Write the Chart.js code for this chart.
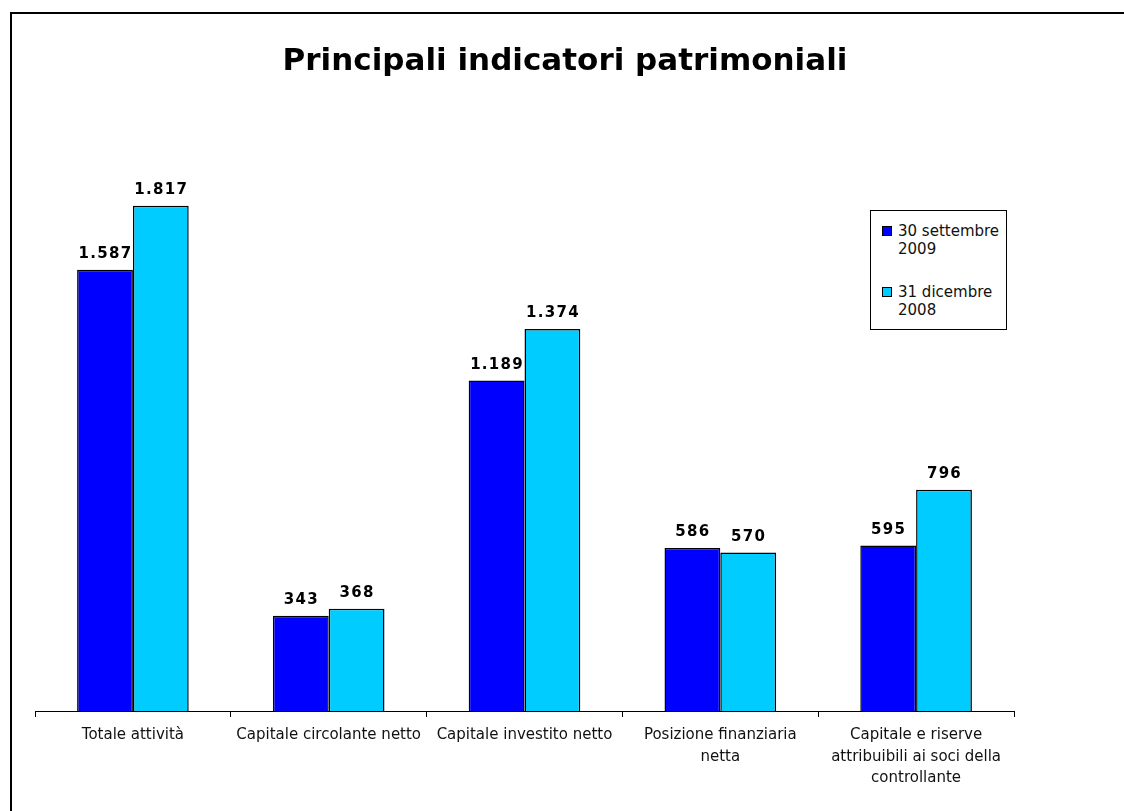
<!DOCTYPE html>
<html>
<head>
<meta charset="utf-8">
<script src="https://cdn.jsdelivr.net/npm/chart.js@4.4.1/dist/chart.umd.min.js"></script>
<style>
  html, body { margin: 0; padding: 0; background: #fff; }
  #wrap { position: relative; width: 1124px; height: 811px; overflow: hidden; }
  #frame { position: absolute; left: 10px; top: 12px; width: 1200px; height: 900px;
           border-left: 2px solid #000; border-top: 2px solid #000; }
  #legend { position: absolute; left: 870px; top: 210px; width: 137px; height: 120px;
            border: 1px solid #000; background: #fff; font-family: "DejaVu Sans", sans-serif;
            font-size: 15px; line-height: 18px; color: #111; box-sizing: border-box; }
  .item { position: absolute; left: 11px; width: 124px; }
  .box { position: absolute; left: 0; top: 4px; width: 8px; height: 8px; border: 1px solid #000; }
  .txt { position: absolute; left: 16px; top: 0; white-space: nowrap; }
</style>
</head>
<body>
<div id="wrap">
  <div id="frame"></div>
  <canvas id="c" width="1124" height="811"></canvas>
  <div id="legend"></div>
</div>
<script>
// categories and series
var categories = [
    'Totale attività',
    'Capitale circolante netto',
    'Capitale investito netto',
    ['Posizione finanziaria', 'netta'],
    ['Capitale e riserve', 'attribuibili ai soci della', 'controllante']
];
var seriesNames = [['30 settembre', '2009'], ['31 dicembre', '2008']];
var sept2009 = [1587, 343, 1189, 586, 595];
var dec2008 = [1817, 368, 1374, 570, 796];
var colors = ['#0000FF', '#00CCFF'];
var chartTitle = 'Principali indicatori patrimoniali';

function fmt(v) {
    return v.toLocaleString('it-IT');
}

// value labels above each bar, plus the title centred on the page
var valueLabels = {
    id: 'valueLabels',
    afterDatasetsDraw: function(chart) {
        var ctx = chart.ctx;
        ctx.save();
        ctx.fillStyle = '#000';
        ctx.textAlign = 'center';
        ctx.textBaseline = 'middle';
        ctx.font = 'bold 31px "DejaVu Sans", sans-serif';
        ctx.fillText(chartTitle, 565, 62);

        ctx.font = 'bold 15px "DejaVu Sans", sans-serif';
        ctx.textBaseline = 'bottom';
        if ('letterSpacing' in ctx) ctx.letterSpacing = '1.3px';
        chart.data.datasets.forEach(function(ds, i) {
            chart.getDatasetMeta(i).data.forEach(function(bar, j) {
                ctx.fillText(fmt(ds.data[j]), bar.x + 0.5, bar.y - 8);
            });
        });
        ctx.restore();
    }
};

new Chart(document.getElementById('c'), {
    type: 'bar',
    data: {
        labels: categories,
        datasets: [
            { label: seriesNames[0].join(' '), data: sept2009, backgroundColor: colors[0],
              borderColor: '#000', borderWidth: 1.5 },
            { label: seriesNames[1].join(' '), data: dec2008, backgroundColor: colors[1],
              borderColor: '#000', borderWidth: 1.5 }
        ]
    },
    options: {
        responsive: false,
        animation: false,
        devicePixelRatio: 1,
        datasets: { bar: { categoryPercentage: 0.57, barPercentage: 1 } },
        layout: { padding: { left: 35, right: 110, top: 155, bottom: 0 } },
        plugins: {
            legend: { display: false },
            tooltip: { enabled: false },
            title: { display: false }
        },
        scales: {
            x: {
                grid: { offset: true, drawOnChartArea: false, tickLength: 6, color: '#000', lineWidth: 1 },
                border: { color: '#000', width: 1 },
                ticks: {
                    color: '#111', maxRotation: 0, autoSkip: false, padding: 7,
                    font: { family: '"DejaVu Sans", sans-serif', size: 15, lineHeight: 1.45 }
                },
                afterFit: function(scale) { scale.height = 100; }
            },
            y: {
                display: false,
                min: 0,
                max: 2000
            }
        }
    },
    plugins: [valueLabels]
});

// legend with wrapped text
var legend = document.getElementById('legend');
var tops = [11, 72];
seriesNames.forEach(function(lines, i) {
    var item = document.createElement('div');
    item.className = 'item';
    item.style.top = tops[i] + 'px';
    item.innerHTML = '<div class="box" style="background:' + colors[i] + '"></div>' +
        '<div class="txt">' + lines.join('<br>') + '</div>';
    legend.appendChild(item);
});
</script>
</body>
</html>
